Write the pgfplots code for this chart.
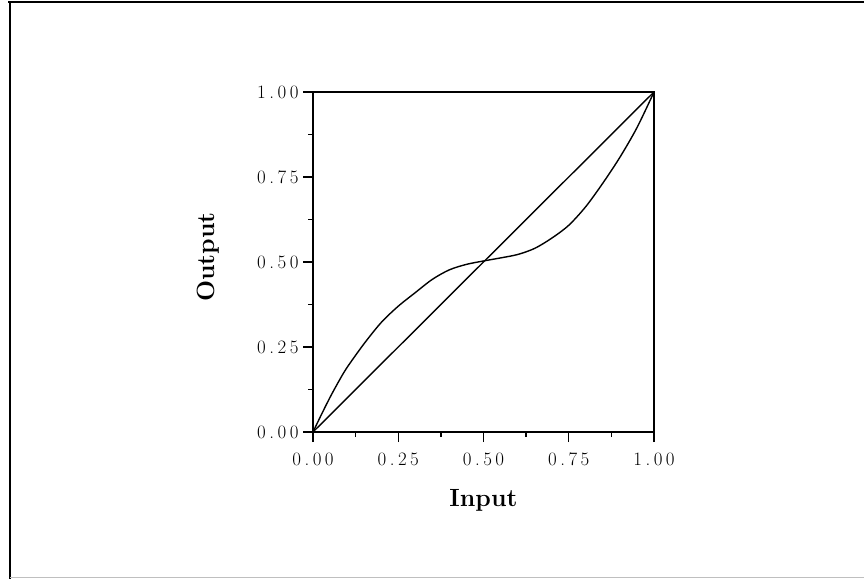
\documentclass[border=0pt]{standalone}
\usepackage{fontspec}
\usepackage{pgfplots}
\pgfplotsset{compat=1.18}
\newcommand{\spc}[4]{\mbox{\fontsize{19}{22}\selectfont#1\kern3.5bp#2\kern3.5bp#3\kern3.5bp#4}}
\begin{document}
\begin{tikzpicture}
\path[use as bounding box] (0,0) rectangle (864bp,579bp);
\begin{axis}[
  at={(313bp,147bp)}, anchor=south west,
  scale only axis, width=341bp, height=340bp,
  xmin=0, xmax=1, ymin=0, ymax=1,
  xtick={0,0.25,0.5,0.75,1}, ytick={0,0.25,0.5,0.75,1},
  xticklabels={\spc0.00,\spc0.25,\spc0.50,\spc0.75,\spc1.00},
  yticklabels={\spc0.00,\spc0.25,\spc0.50,\spc0.75,\spc1.00},
  minor tick num=1,
  tick pos=left, tick align=outside,
  major tick length=10bp, minor tick length=5bp,
  every tick/.style={black, line width=1.3pt},
  axis line style={line width=1.6pt},
  xticklabel style={yshift=-7bp},
  yticklabel style={xshift=-1bp},
  xlabel={Input}, ylabel={Output},
  label style={font=\fontsize{25}{30}\selectfont\bfseries},
  xlabel style={at={(axis description cs:0.5,-0.2)}, anchor=center},
  ylabel style={at={(axis description cs:-0.308,0.515)}, anchor=center},
]
\addplot[black, line width=1.4pt] coordinates {(0,0) (1,1)};
\addplot[black, line width=1.4pt, smooth] coordinates {
(0,0) (0.025,0.052) (0.05,0.102) (0.075,0.148) (0.10,0.190) (0.15,0.260)
(0.20,0.322) (0.25,0.370) (0.30,0.410) (0.35,0.449) (0.40,0.477) (0.45,0.493)
(0.50,0.503) (0.55,0.512) (0.60,0.522) (0.65,0.540) (0.70,0.570) (0.75,0.608)
(0.80,0.663) (0.85,0.732) (0.90,0.808) (0.95,0.895) (1,1)};
\end{axis}
\draw[line width=1.6pt] (10bp,0) -- (10bp,577bp);
\draw[line width=1.6pt] (8bp,577bp) -- (864bp,577bp);
\draw[line width=0.8pt, black!25] (10bp,2bp) -- (864bp,2bp);
\end{tikzpicture}
\end{document}
